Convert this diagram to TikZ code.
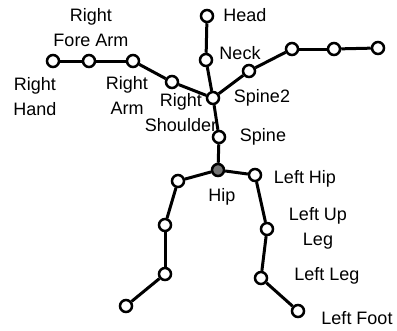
\documentclass[tikz,border=0pt]{standalone}
\usepackage{fontspec}
\setmainfont{Liberation Sans}
\begin{document}
\begin{tikzpicture}[x=1pt,y=-1pt,
  joint/.style={circle,draw=black,line width=2.5pt,fill=white,inner sep=0pt,minimum size=12pt},
  root/.style={joint,fill=black!55},
  bone/.style={line width=3pt,black},
  lbl/.style={font=\fontsize{18}{25}\selectfont,align=center,inner sep=0pt}]
\useasboundingbox (0,0) rectangle (397,330);
% joints
\node[joint] (head) at (207,16) {};
\node[joint] (neck) at (206,60) {};
\node[joint] (spine2) at (213,98) {};
\node[joint] (rsh) at (172,82) {};
\node[joint] (rarm) at (133,61) {};
\node[joint] (rfore) at (89,61) {};
\node[joint] (rhand) at (53,61) {};
\node[joint] (lsh) at (249,71) {};
\node[joint] (larm) at (292,49) {};
\node[joint] (lfore) at (334,49) {};
\node[joint] (lhand) at (378,48) {};
\node[joint] (spine) at (219,137) {};
\node[root] (hip) at (218,170) {};
\node[joint] (rhip) at (178,181) {};
\node[joint] (rup) at (165,225) {};
\node[joint] (rleg) at (165,274) {};
\node[joint] (rfoot) at (126,306) {};
\node[joint] (lhip) at (255,175) {};
\node[joint] (lup) at (267,229) {};
\node[joint] (lleg) at (261,278) {};
\node[joint] (lfoot) at (298,311) {};
% bones
\draw[bone] (head) -- (neck);
\draw[bone] (neck) -- (spine2);
\draw[bone] (spine2) -- (rsh);
\draw[bone] (rsh) -- (rarm);
\draw[bone] (rarm) -- (rfore);
\draw[bone] (rfore) -- (rhand);
\draw[bone] (spine2) -- (lsh);
\draw[bone] (lsh) -- (larm);
\draw[bone] (larm) -- (lfore);
\draw[bone] (lfore) -- (lhand);
\draw[bone] (spine2) -- (spine);
\draw[bone] (spine) -- (hip);
\draw[bone] (hip) -- (rhip);
\draw[bone] (rhip) -- (rup);
\draw[bone] (rup) -- (rleg);
\draw[bone] (rleg) -- (rfoot);
\draw[bone] (hip) -- (lhip);
\draw[bone] (lhip) -- (lup);
\draw[bone] (lup) -- (lleg);
\draw[bone] (lleg) -- (lfoot);
% labels
\node[lbl] (tHead) at (245,15) {Head};
\node[lbl] (tNeck) at (240,53) {Neck};
\node[lbl] (tSpine2) at (262,98) {Spine2};
\node[lbl] (tSpine) at (263,137) {Spine};
\node[lbl] (tHip) at (222,197) {Hip};
\node[lbl] (tRFore) at (91,28) {Right\\Fore Arm};
\node[lbl] (tRHand) at (35,97) {Right\\Hand};
\node[lbl] (tRArm) at (127,95) {Right\\Arm};
\node[lbl] (tRSh) at (181,113) {Right\\Shoulder};
\node[lbl] (tLHip) at (305,179) {Left Hip};
\node[lbl] (tLUp) at (318,228) {Left Up\\Leg};
\node[lbl] (tLLeg) at (327,276) {Left Leg};
\node[lbl] (tLFoot) at (357,318) {Left Foot};
\end{tikzpicture}
\end{document}
